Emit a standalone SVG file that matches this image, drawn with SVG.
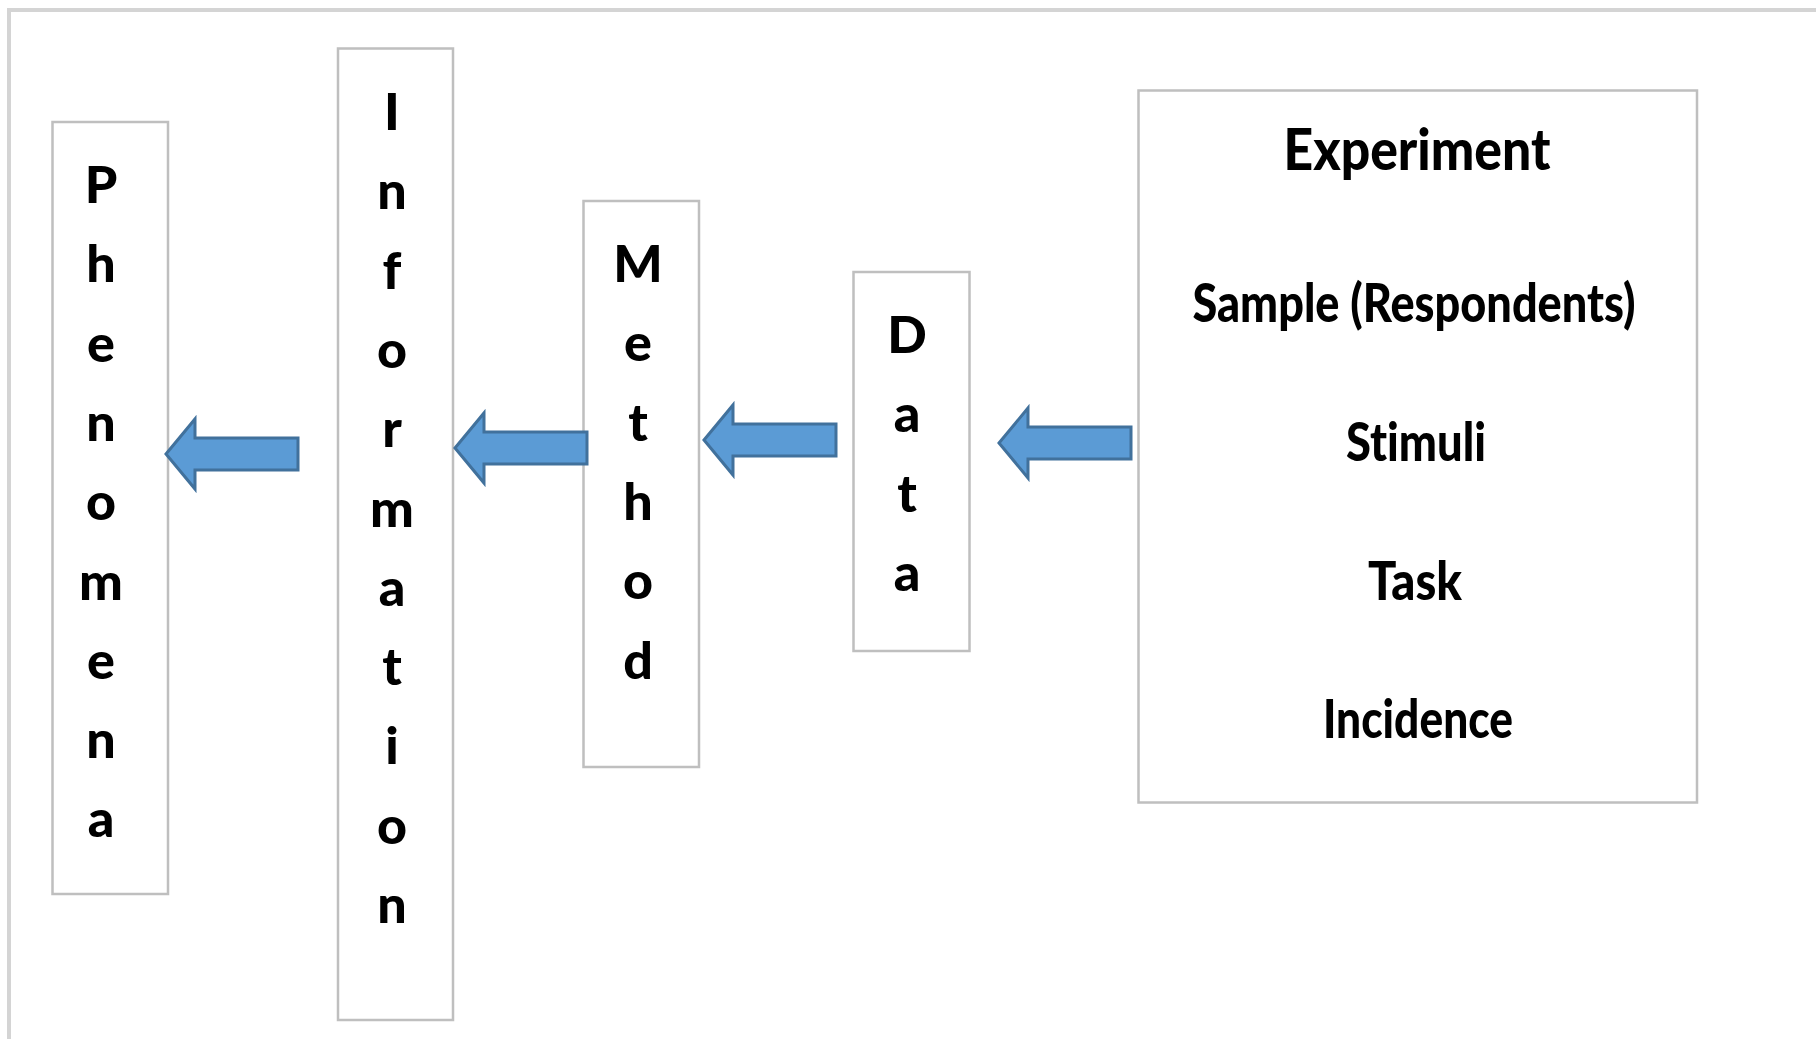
<svg xmlns="http://www.w3.org/2000/svg" width="1816" height="1039" viewBox="0 0 1816 1039">
<style>
.frame{fill:none;stroke:#d4d4d4;stroke-width:4}
.box{fill:#ffffff;stroke:#bfbfbf;stroke-width:2.5}
.arrow{fill:#5b9bd5;stroke:#41719c;stroke-width:3;stroke-linejoin:miter}
.t{font-family:Lato,"Liberation Sans",sans-serif;font-weight:900;fill:#000;text-anchor:middle;font-variant-ligatures:none;font-feature-settings:"liga" 0}
.l{font-size:52px}
.h{font-size:58px}
.i{font-size:53px}
</style>
<defs>
<path id="larrow" d="M0,0 L29,-35 L29,-16 L132,-16 L132,16 L29,16 L29,35 Z"/>
</defs>
<rect width="1816" height="1039" fill="#ffffff"/>
<path class="frame" d="M9,1045 L9,10 L1822,10"/>

<g id="phenomena">
<rect class="box" x="52.5" y="122" width="115.5" height="772"/>
<text class="t l" x="101" y="203">P</text>
<text class="t l" x="101" y="282.3">h</text>
<text class="t l" x="101" y="361.6">e</text>
<text class="t l" x="101" y="440.9">n</text>
<text class="t l" x="101" y="520.2">o</text>
<text class="t l" x="101" y="599.5">m</text>
<text class="t l" x="101" y="678.8">e</text>
<text class="t l" x="101" y="758.1">n</text>
<text class="t l" x="101" y="837.4">a</text>
</g>

<g id="information">
<rect class="box" x="338" y="48.5" width="115" height="971.5"/>
<text class="t l" x="392" y="130">I</text>
<text class="t l" x="392" y="209.3">n</text>
<text class="t l" x="392" y="288.6">f</text>
<text class="t l" x="392" y="367.9">o</text>
<text class="t l" x="392" y="447.2">r</text>
<text class="t l" x="392" y="526.5">m</text>
<text class="t l" x="392" y="605.8">a</text>
<text class="t l" x="392" y="685.1">t</text>
<text class="t l" x="392" y="764.4">i</text>
<text class="t l" x="392" y="843.7">o</text>
<text class="t l" x="392" y="923">n</text>
</g>

<g id="method">
<rect class="box" x="583.5" y="201" width="115.5" height="566"/>
<text class="t l" x="638" y="282">M</text>
<text class="t l" x="638" y="361.3">e</text>
<text class="t l" x="638" y="440.6">t</text>
<text class="t l" x="638" y="519.9">h</text>
<text class="t l" x="638" y="599.2">o</text>
<text class="t l" x="638" y="678.5">d</text>
</g>

<g id="data">
<rect class="box" x="853.5" y="272" width="116" height="379"/>
<text class="t l" x="907" y="353">D</text>
<text class="t l" x="907" y="432.3">a</text>
<text class="t l" x="907" y="511.6">t</text>
<text class="t l" x="907" y="590.9">a</text>
</g>

<g id="experiment">
<rect class="box" x="1138.5" y="90.5" width="558.5" height="712"/>
<text class="t h" x="1417" y="170" textLength="267" lengthAdjust="spacingAndGlyphs">Experiment</text>
<text class="t i" x="1414" y="322" textLength="443" lengthAdjust="spacingAndGlyphs">Sample (Respondents)</text>
<text class="t i" x="1416" y="461" textLength="140" lengthAdjust="spacingAndGlyphs">Stimuli</text>
<text class="t i" x="1415" y="600" textLength="94" lengthAdjust="spacingAndGlyphs">Task</text>
<text class="t i" x="1418" y="738" textLength="190" lengthAdjust="spacingAndGlyphs">Incidence</text>
</g>

<g id="connectors">
<use href="#larrow" class="arrow" x="166" y="454"/>
<use href="#larrow" class="arrow" x="455" y="448"/>
<use href="#larrow" class="arrow" x="704" y="440"/>
<use href="#larrow" class="arrow" x="999" y="443"/>
</g>
</svg>
